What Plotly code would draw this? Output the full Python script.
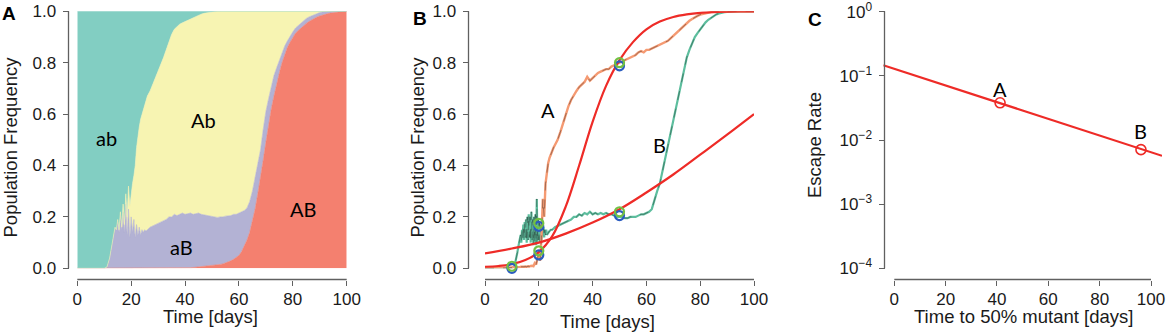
import math
import plotly.graph_objects as go

# ---------------- Panel A data (cumulative frequency boundaries) ----------------
t_A = [0, 5, 10, 11,
       11.5, 12, 12.5, 13, 13.5, 14, 14.5, 15, 15.5, 16, 16.5, 17, 17.5, 18, 18.5,
       19, 19.5, 20, 20.5, 21, 21.5, 22, 22.5, 23, 23.5, 24, 24.5, 25, 25.5] + list(range(26, 101))

AB_top = ([0, 0, 0, 0] + [0] * 29 + [0] * 15 +
          [0.001, 0.002, 0.003, 0.004, 0.005, 0.006, 0.007, 0.008, 0.009] +
          [0.010, 0.011, 0.013, 0.015, 0.017, 0.020, 0.024, 0.029, 0.035, 0.042] +
          [0.05, 0.065, 0.085, 0.11, 0.14, 0.18, 0.23, 0.29, 0.35, 0.42] +
          [0.49, 0.56, 0.62, 0.67, 0.72, 0.76, 0.80, 0.83, 0.86, 0.88] +
          [0.90, 0.915, 0.925, 0.935, 0.945, 0.953, 0.96, 0.967, 0.973, 0.978] +
          [0.982, 0.986, 0.989, 0.991, 0.993, 0.995, 0.996, 0.997, 0.998, 0.999, 1.0])

aB_top = ([0, 0, 0, 0.005] +
          [0.02, 0.04, 0.07, 0.10, 0.13, 0.16, 0.15, 0.19, 0.14, 0.21, 0.15, 0.22, 0.14, 0.25, 0.13,
           0.23, 0.12, 0.20, 0.14, 0.19, 0.12, 0.17, 0.13, 0.16, 0.13, 0.15, 0.14, 0.15, 0.145] +
          [0.15, 0.16, 0.165, 0.17, 0.175, 0.18, 0.185, 0.19, 0.2, 0.2] +
          [0.21, 0.205, 0.21, 0.215, 0.21, 0.212, 0.215, 0.21, 0.213, 0.215] +
          [0.21, 0.208, 0.205, 0.203, 0.2, 0.2, 0.198, 0.2, 0.2, 0.203] +
          [0.205, 0.205, 0.21, 0.21, 0.215, 0.22, 0.225, 0.235, 0.26, 0.30] +
          [0.35, 0.40, 0.46, 0.54, 0.61, 0.66, 0.71, 0.75, 0.78, 0.81] +
          [0.84, 0.865, 0.885, 0.905, 0.92, 0.935, 0.945, 0.955, 0.965, 0.972] +
          [0.978, 0.983, 0.988, 0.992, 0.995, 0.997, 0.998, 0.999, 0.999, 1.0] +
          [1.0, 1.0, 1.0, 1.0, 1.0])

Ab_top = ([0, 0, 0, 0.005] +
          [0.02, 0.04, 0.07, 0.10, 0.13, 0.16, 0.15, 0.19, 0.15, 0.22, 0.16, 0.25, 0.17, 0.29, 0.20,
           0.32, 0.24, 0.30, 0.33, 0.36, 0.40, 0.47, 0.52, 0.55, 0.58, 0.60, 0.62, 0.64, 0.655] +
          [0.67, 0.69, 0.715, 0.74, 0.77, 0.79, 0.82, 0.85, 0.88, 0.91] +
          [0.93, 0.94, 0.95, 0.955, 0.96, 0.966, 0.972, 0.977, 0.982, 0.986] +
          [0.989, 0.992, 0.994, 0.996, 0.998, 0.999, 1.0, 1.0, 1.0, 1.0] +
          [1.0] * 45)

ab_top = [1.0] * len(t_A)

area_labels = ["ab", "Ab", "aB", "AB"]
area_label_x = [11, 46.8, 38.5, 83.8]
area_label_y = [0.508, 0.578, 0.083, 0.232]

# ---------------- Panel B data ----------------
A_traj = ([0, 0, 0.003, 0.003] +
          [0.004, 0.005, 0.004, 0.005, 0.006, 0.005, 0.006, 0.007, 0.006, 0.008, 0.007, 0.009, 0.01, 0.008, 0.02,
           0.015, 0.04, 0.06, 0.03, 0.12, 0.27, 0.2, 0.33, 0.38, 0.41, 0.43, 0.445, 0.455, 0.47] +
          [0.48, 0.50, 0.53, 0.565, 0.605, 0.63, 0.655, 0.675, 0.69, 0.705] +
          [0.715, 0.725, 0.745, 0.73, 0.74, 0.75, 0.76, 0.765, 0.77, 0.775] +
          [0.775, 0.785, 0.79, 0.795, 0.8, 0.805, 0.81, 0.815, 0.82, 0.825] +
          [0.83, 0.84, 0.845, 0.84, 0.85, 0.85, 0.855, 0.86, 0.865, 0.87] +
          [0.875, 0.88, 0.885, 0.895, 0.905, 0.915, 0.925, 0.935, 0.945, 0.955] +
          [0.963, 0.97, 0.977, 0.982, 0.987, 0.99, 0.993, 0.995, 0.997, 0.998] +
          [0.999, 0.999, 1.0, 1.0, 1.0, 1.0, 1.0, 1.0, 1.0, 1.0] +
          [1.0] * 5)

t_B = ([0, 5, 10, 11, 11.5, 12, 12.5, 13] +
       [13.25, 13.5, 13.75, 14, 14.25, 14.5, 14.75, 15, 15.25, 15.5, 15.75, 16,
        16.25, 16.5, 16.75, 17, 17.25, 17.5, 17.75, 18, 18.25, 18.5, 18.75, 19,
        19.25, 19.5, 19.75, 20, 20.25, 20.5, 20.75, 21, 21.25, 21.5, 21.75, 22,
        22.25, 22.5, 22.75, 23] +
       [23.5, 24, 24.5, 25] + list(range(26, 101)))

B_traj = ([0, 0, 0, 0.01, 0.03, 0.06, 0.09, 0.11] +
          [0.13, 0.10, 0.15, 0.12, 0.17, 0.11, 0.18, 0.12, 0.19, 0.10, 0.20, 0.11,
           0.21, 0.12, 0.20, 0.10, 0.22, 0.11, 0.19, 0.09, 0.20, 0.10, 0.21, 0.09,
           0.27, 0.10, 0.19, 0.11, 0.18, 0.10, 0.17, 0.11, 0.16, 0.12, 0.16, 0.12,
           0.15, 0.13, 0.15, 0.13] +
          [0.14, 0.145, 0.15, 0.15] +
          [0.16, 0.165, 0.17, 0.175, 0.18, 0.185, 0.19, 0.2, 0.2, 0.21] +
          [0.205, 0.215, 0.21, 0.22, 0.21, 0.215, 0.21, 0.215, 0.21, 0.215] +
          [0.21, 0.21, 0.205, 0.2, 0.2, 0.2, 0.195, 0.195, 0.2, 0.2] +
          [0.2, 0.205, 0.21, 0.21, 0.215, 0.22, 0.23, 0.27, 0.30, 0.33] +
          [0.38, 0.43, 0.48, 0.53, 0.58, 0.63, 0.68, 0.73, 0.78, 0.82] +
          [0.85, 0.875, 0.9, 0.915, 0.93, 0.945, 0.957, 0.967, 0.975, 0.982] +
          [0.988, 0.992, 0.995, 0.997, 0.998, 0.999, 1.0, 1.0, 1.0, 1.0] +
          [1.0] * 5)

t_fit_A = [0, 5, 10, 15, 20, 25, 30, 35, 40, 45, 50, 55, 60, 65, 70, 75, 80, 85, 90, 95, 100]
fit_A = [0.006, 0.009, 0.016, 0.032, 0.063, 0.125, 0.24, 0.40, 0.57, 0.71, 0.81, 0.88, 0.93, 0.96,
         0.978, 0.988, 0.994, 0.997, 0.999, 1.0, 1.0]
t_fit_B = [0, 10, 20, 30, 40, 50, 60, 70, 80, 90, 100]
fit_B = [0.058, 0.077, 0.10, 0.135, 0.178, 0.23, 0.295, 0.365, 0.442, 0.52, 0.60]

sample_days = [10, 20, 20, 50, 50]
sample_green = [0.008, 0.175, 0.068, 0.80, 0.22]
sample_blue = [0.0, 0.163, 0.052, 0.788, 0.205]

traj_labels = ["A", "B"]
traj_label_x = [23.4, 64.7]
traj_label_y = [0.615, 0.478]

# ---------------- Panel C data ----------------
fit_line_days = [-4.3, 104.3]
fit_line_rate = [0.143, 0.0056]
escape_days = [41.2, 96.1]
escape_rate = [0.0373, 0.00698]
escape_labels = ["A", "B"]
escape_label_rate = [0.061, 0.0135]
c_tick_vals = [1e-4, 1e-3, 1e-2, 1e-1, 1]
c_tick_text = ["10<sup>−4</sup>", "10<sup>−3</sup>", "10<sup>−2</sup>", "10<sup>−1</sup>", "10<sup>0</sup>"]

# ---------------- styling ----------------
COL_ab = "#82CEC2"
COL_Ab = "#F7F4B2"
COL_aB = "#B3B2D4"
COL_AB = "#F4806F"
COL_ORANGE = "#F59A72"
COL_GREEN = "#5DBE9E"
COL_RED = "#EE2B27"
AX = "#606060"
TXT = "#1a1a1a"
FONT = "Liberation Sans, Arial, sans-serif"
LAB_FONT = "Lato, Open Sans, sans-serif"

fig = go.Figure()

# Panel A: stacked areas
for y, col in [(AB_top, COL_AB), (aB_top, COL_aB), (Ab_top, COL_Ab), (ab_top, COL_ab)]:
    fig.add_trace(go.Scatter(x=t_A, y=y, mode="lines", line=dict(color=col, width=0.6),
                             fill="tozeroy" if y is AB_top else "tonexty", fillcolor=col,
                             xaxis="x", yaxis="y", hoverinfo="skip"))

# Panel B
fig.add_trace(go.Scatter(x=t_B, y=B_traj, mode="lines", line=dict(color=COL_GREEN, width=2.2),
                         xaxis="x2", yaxis="y2"))
fig.add_trace(go.Scatter(x=t_B, y=B_traj, mode="lines",
                         line=dict(color="rgba(30,30,30,0.55)", width=0.7, dash="dash"),
                         xaxis="x2", yaxis="y2"))
fig.add_trace(go.Scatter(x=t_A, y=A_traj, mode="lines", line=dict(color=COL_ORANGE, width=2.4),
                         xaxis="x2", yaxis="y2"))
fig.add_trace(go.Scatter(x=t_A, y=A_traj, mode="lines",
                         line=dict(color="rgba(30,30,30,0.55)", width=0.7, dash="dash"),
                         xaxis="x2", yaxis="y2"))
fig.add_trace(go.Scatter(x=t_fit_A, y=fit_A, mode="lines", line=dict(color=COL_RED, width=2.2, shape="spline"),
                         xaxis="x2", yaxis="y2"))
fig.add_trace(go.Scatter(x=t_fit_B, y=fit_B, mode="lines", line=dict(color=COL_RED, width=2.2, shape="spline"),
                         xaxis="x2", yaxis="y2"))
fig.add_trace(go.Scatter(x=sample_days, y=sample_blue, mode="markers", cliponaxis=False,
                         marker=dict(symbol="circle-open", size=9, color="#2A5CC0", line=dict(width=2.2)),
                         xaxis="x2", yaxis="y2"))
fig.add_trace(go.Scatter(x=sample_days, y=sample_green, mode="markers", cliponaxis=False,
                         marker=dict(symbol="circle-open", size=9, color="#72C043", line=dict(width=2.2)),
                         xaxis="x2", yaxis="y2"))

# Panel C (data on hidden x3/y3, visible ticks on x4/y4)
fig.add_trace(go.Scatter(x=fit_line_days, y=fit_line_rate, mode="lines", line=dict(color=COL_RED, width=2.2),
                         xaxis="x3", yaxis="y3"))
fig.add_trace(go.Scatter(x=escape_days, y=escape_rate, mode="markers",
                         marker=dict(symbol="circle-open", size=10, color=COL_RED, line=dict(width=1.6)),
                         xaxis="x3", yaxis="y3"))
fig.add_trace(go.Scatter(x=[50], y=[0.01], mode="markers", marker=dict(opacity=0),
                         xaxis="x4", yaxis="y4", hoverinfo="skip"))

H = 335.0
W = 1168.0
def px(v):
    return v / W
def py(v):
    return 1 - v / H

X_AXIS_PY = 279.5
x_axis_pos = py(X_AXIS_PY)
tickfont = dict(family=FONT, size=17, color=TXT)
common_x = dict(showgrid=False, zeroline=False, showline=False,
                ticks="outside", ticklen=5, tickwidth=1, tickcolor=AX, tickfont=tickfont,
                tickvals=[0, 20, 40, 60, 80, 100], anchor="free", position=x_axis_pos,
                fixedrange=True, automargin=False, ticklabeloverflow="allow", ticklabelstandoff=-1)
common_y = dict(showgrid=False, zeroline=False, showline=False,
                ticks="outside", ticklen=6, tickwidth=1, tickcolor=AX, tickfont=tickfont,
                anchor="free", fixedrange=True, automargin=False, ticklabeloverflow="allow",
                ticklabelstandoff=3)
hidden = dict(visible=False, fixedrange=True, automargin=False, showgrid=False, zeroline=False)

# pixel geometry of each panel: (x of value 0, x of value 100, y-axis line x)
PANEL_A = (77.3, 346.7, 68.5)
PANEL_B = (485.0, 754.0, 468.5)
PANEL_C = (894.3, 1151.0, 884.5)
Y_TOP, Y_BOT = 11.3, 268.3

ydom = [py(Y_BOT), py(Y_TOP)]
fig.update_layout(
    width=1168, height=335, margin=dict(l=0, r=0, t=0, b=0, autoexpand=False),
    paper_bgcolor="white", plot_bgcolor="rgba(0,0,0,0)", showlegend=False,
    xaxis=dict(domain=[px(PANEL_A[0]), px(PANEL_A[1])], range=[0, 100], **common_x),
    yaxis=dict(domain=ydom, range=[0, 1], tickvals=[0, 0.2, 0.4, 0.6, 0.8, 1.0],
               tickformat=".1f", position=px(PANEL_A[2]), **common_y),
    xaxis2=dict(domain=[px(PANEL_B[0]), px(PANEL_B[1])], range=[0, 100], **common_x),
    yaxis2=dict(domain=ydom, range=[0, 1], tickvals=[0, 0.2, 0.4, 0.6, 0.8, 1.0],
                tickformat=".1f", position=px(PANEL_B[2]), **common_y),
    xaxis3=dict(domain=[px(883.3), px(1162)], range=[-4.3, 104.3], anchor="y3", **hidden),
    yaxis3=dict(domain=[py(278.6), py(0.6)], type="log", range=[-4.16, 0.16], anchor="x3", **hidden),
    xaxis4=dict(domain=[px(PANEL_C[0]), px(PANEL_C[1])], range=[0, 100], **common_x),
    yaxis4=dict(domain=[py(268.3), py(11.7)], type="log", range=[-4, 0], tickvals=c_tick_vals,
                ticktext=c_tick_text, position=px(PANEL_C[2]), **common_y),
)

# axis lines (R style, detached), in paper coordinates
shapes = []
for x0, x1, yx in [PANEL_A, PANEL_B, PANEL_C]:
    shapes.append(dict(type="line", xref="paper", yref="paper", x0=px(x0), x1=px(x1),
                       y0=x_axis_pos, y1=x_axis_pos, line=dict(color=AX, width=1.3), layer="above"))
    shapes.append(dict(type="line", xref="paper", yref="paper", x0=px(yx), x1=px(yx),
                       y0=py(Y_BOT), y1=py(Y_TOP), line=dict(color=AX, width=1.3), layer="above"))
fig.update_layout(shapes=shapes)

ann = []
# panel letters
for txt, x, y in [("A", 8.5, 13.5), ("B", 420, 18), ("C", 815, 19)]:
    ann.append(dict(text="<b>%s</b>" % txt, x=px(x), y=py(y), xref="paper", yref="paper",
                    showarrow=False, font=dict(family=FONT, size=19, color="black"),
                    xanchor="center", yanchor="middle"))
# axis titles
title_font = dict(family=FONT, size=18.5, color=TXT)
for txt, x, y, ang in [("Population Frequency", 10, 147.5, -90), ("Population Frequency", 417, 147.5, -90),
                       ("Escape Rate", 815, 145, -90),
                       ("Time [days]", 210.8, 316, 0), ("Time [days]", 607.5, 321, 0),
                       ("Time to 50% mutant [days]", 1023, 316, 0)]:
    ann.append(dict(text=txt, x=px(x), y=py(y), xref="paper", yref="paper", showarrow=False,
                    font=title_font, textangle=ang, xanchor="center", yanchor="middle"))
# in-plot labels
lab_font = dict(family=LAB_FONT, size=20, color="black")
for t, x, y in zip(area_labels, area_label_x, area_label_y):
    ann.append(dict(text=t, x=x, y=y, xref="x", yref="y", showarrow=False, font=lab_font))
for t, x, y in zip(traj_labels, traj_label_x, traj_label_y):
    ann.append(dict(text=t, x=x, y=y, xref="x2", yref="y2", showarrow=False, font=lab_font))
for t, x, y in zip(escape_labels, escape_days, escape_label_rate):
    ann.append(dict(text=t, x=x, y=math.log10(y), xref="x3", yref="y3", showarrow=False, font=lab_font))
fig.update_layout(annotations=ann)

fig.write_html("out.html", config={"displayModeBar": False},
               post_script="document.body.style.margin='0px';document.body.style.overflow='hidden';")
